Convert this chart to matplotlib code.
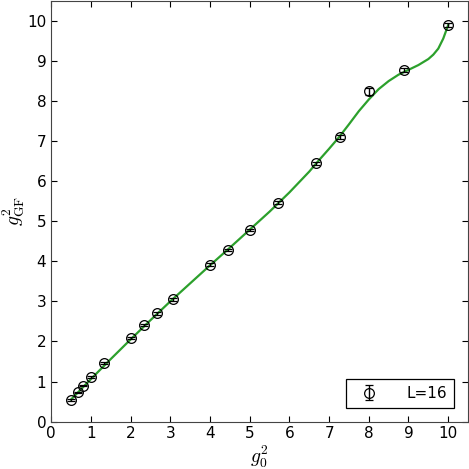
import matplotlib
matplotlib.use('Agg')
import matplotlib.pyplot as plt
import numpy as np

# Datos: g0^2 y g_GF^2 para L=16
g0_sq = [0.5, 0.667, 0.8, 1.0, 1.333, 2.0, 2.333, 2.667, 3.077, 4.0,
         4.444, 5.0, 5.714, 6.667, 7.273, 8.0, 8.889, 10.0]
ggf_sq = [0.54, 0.73, 0.90, 1.12, 1.47, 2.08, 2.41, 2.70, 3.05, 3.92,
          4.29, 4.79, 5.46, 6.45, 7.10, 8.24, 8.77, 9.90]
ggf_err = [0.02, 0.02, 0.02, 0.02, 0.02, 0.03, 0.03, 0.03, 0.03, 0.03,
           0.03, 0.03, 0.04, 0.04, 0.05, 0.08, 0.05, 0.05]

# Curva de ajuste
fit_x = [0.5, 1.0, 1.5, 2.0, 2.5, 3.0, 3.5, 4.0, 4.5, 5.0, 5.5, 6.0,
         6.5, 6.75, 7.0, 7.25, 7.5, 7.75, 8.0, 8.25, 8.5, 8.75, 9.0,
         9.25, 9.5, 9.625, 9.75, 9.875, 10.0]
fit_y = [0.55, 1.06, 1.56, 2.05, 2.53, 3.00, 3.45, 3.90, 4.34, 4.79,
         5.24, 5.72, 6.24, 6.53, 6.81, 7.10, 7.42, 7.75, 8.04, 8.30,
         8.50, 8.66, 8.78, 8.90, 9.05, 9.16, 9.31, 9.56, 9.90]

plt.rcParams['font.size'] = 10
plt.rcParams['mathtext.fontset'] = 'cm'

fig = plt.figure(figsize=(4.69, 4.69), dpi=100)
ax = fig.add_axes([0.109, 0.101, 0.889, 0.897])

ax.plot(fit_x, fit_y, color='#2ca02c', linewidth=1.6, zorder=2,
        solid_joinstyle='round')

ax.errorbar(g0_sq, ggf_sq, yerr=ggf_err,
            fmt='o', markersize=7, markerfacecolor='none',
            markeredgecolor='black', markeredgewidth=0.9,
            ecolor='black', elinewidth=1.0, capsize=3,
            label='L=16', zorder=3)

ax.set_xlim(0, 10.5)
ax.set_ylim(0, 10.5)
ax.set_xticks(np.arange(0, 11, 1))
ax.set_yticks(np.arange(0, 11, 1))
ax.tick_params(direction='in', top=True, right=True, length=4,
               labelsize=11)
for s in ax.spines.values():
    s.set_color('#444444')

ax.set_xlabel(r'$g_0^2$', fontsize=14, labelpad=2)
ax.set_ylabel(r'$g^2_{\rm GF}$', fontsize=14)
ax.yaxis.set_label_coords(-0.058, 0.5)

leg = ax.legend(loc='lower right', numpoints=1, fancybox=False,
                framealpha=1, edgecolor='black', fontsize=11,
                borderpad=0.45, handletextpad=1.5, borderaxespad=0.9)
leg.get_frame().set_linewidth(0.9)

fig.savefig('out.png', dpi=100)
